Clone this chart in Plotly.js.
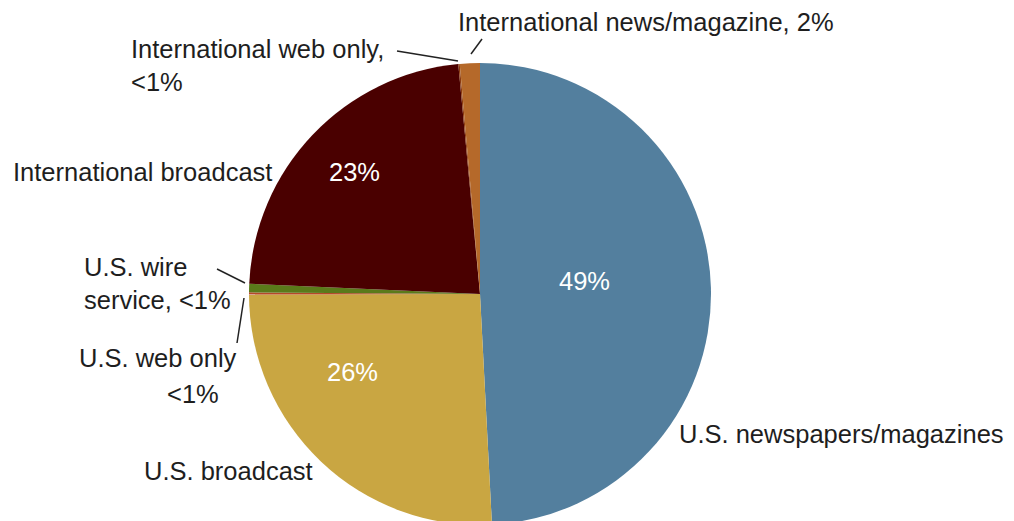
<!DOCTYPE html>
<html>
<head>
<meta charset="utf-8">
<script src="https://cdn.plot.ly/plotly-3.0.1.min.js"></script>
<style>
html, body { margin: 0; padding: 0; overflow: hidden; background: #fff; }
#chart { width: 1014px; height: 529px; }
</style>
</head>
<body>
<div id="chart"></div>
<script>
// Slices, clockwise from 12 o'clock
const categories = [
  "U.S. newspapers/magazines",
  "U.S. broadcast",
  "U.S. web only",
  "U.S. wire service",
  "International broadcast",
  "International web only",
  "International news/magazine"
];
// shares as drawn (percent)
const shares = [49.2, 25.8, 0.15, 0.6, 22.8, 0.1, 1.4];
// labels printed on the chart
const shareLabels = ["49%", "26%", "<1%", "<1%", "23%", "<1%", "2%"];
const sliceColors = ["#537f9e", "#c9a642", "#b5482a", "#5a7a1a", "#4a0000", "#8a3a10", "#b5692a"];

const W = 1014, H = 529;
const px = x => x / W;
const py = y => 1 - y / H;

const FONT = "Liberation Sans, Arial, sans-serif";
const FS = 25.5;
const dark = "#1e1e1e";

const trace = {
  type: "pie",
  labels: categories,
  values: shares,
  sort: false,
  direction: "clockwise",
  rotation: 0,
  marker: { colors: sliceColors, line: { width: 0 } },
  textinfo: "none",
  hoverinfo: "label+percent",
  showlegend: false,
  domain: { x: [px(249), px(711)], y: [py(525), py(63)] }
};

function esc(s) { return s.replace(/</g, "&lt;"); }

function ann(text, x, y, opts) {
  return Object.assign({
    text: text, xref: "paper", yref: "paper", x: px(x), y: py(y),
    xanchor: "left", yanchor: "middle", showarrow: false, align: "left",
    font: { family: FONT, size: FS, color: dark }
  }, opts || {});
}

const annotations = [
  ann(esc(shareLabels[0]), 584, 281, { xanchor: "center", font: { family: FONT, size: FS, color: "#ffffff" } }),
  ann(esc(shareLabels[1]), 352, 372, { xanchor: "center", font: { family: FONT, size: FS, color: "#ffffff" } }),
  ann(esc(shareLabels[4]), 354, 172, { xanchor: "center", font: { family: FONT, size: FS, color: "#ffffff" } }),
  ann(categories[0], 677, 434),
  ann(categories[1], 142, 471),
  ann(categories[2], 77, 358),
  ann(esc(shareLabels[2]), 165, 394),
  ann("U.S. wire<br>service, " + esc(shareLabels[3]), 82, 283),
  ann(categories[4], 11, 172),
  ann(categories[5] + ",<br>" + esc(shareLabels[5]), 129, 66),
  ann(categories[6] + ", " + shareLabels[6], 456, 22)
];

function seg(x0, y0, x1, y1) {
  return { type: "line", xref: "paper", yref: "paper",
    x0: px(x0), y0: py(y0), x1: px(x1), y1: py(y1),
    line: { color: "#222", width: 1.5 } };
}

const shapes = [
  seg(471, 54, 482, 39),
  seg(397, 51, 458, 61),
  seg(217, 269, 245, 283),
  seg(244, 298, 237, 343)
];

const layout = {
  width: W, height: H,
  margin: { l: 0, r: 0, t: 0, b: 0 },
  paper_bgcolor: "#ffffff",
  showlegend: false,
  annotations: annotations,
  shapes: shapes
};

Plotly.newPlot("chart", [trace], layout, { displayModeBar: false, staticPlot: true });
</script>
</body>
</html>
